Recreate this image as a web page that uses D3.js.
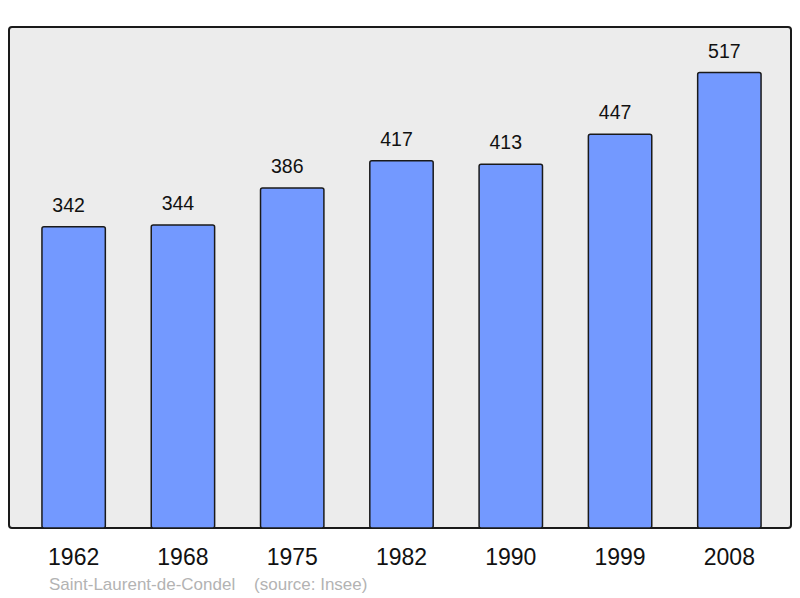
<!DOCTYPE html>
<html>
<head>
<meta charset="utf-8">
<script src="https://cdn.jsdelivr.net/npm/d3@7"></script>
<style>
  body { margin: 0; background: #fff; }
  text { font-family: "Liberation Sans", Arial, sans-serif; }
</style>
</head>
<body>
<div id="chart"></div>
<script>
var years = ['1962', '1968', '1975', '1982', '1990', '1999', '2008'];
var population = [342, 344, 386, 417, 413, 447, 517];
var place = 'Saint-Laurent-de-Condel';
var source = '(source: Insee)';

var width = 800;
var height = 598;
var frame = { left: 9, top: 27, right: 791, bottom: 528 };

var svg = d3.select('#chart')
	.append('svg')
	.attr('width', width)
	.attr('height', height);

// scales
var x_scale = d3.scaleBand()
	.domain(years)
	.range([19, 784])
	.paddingInner(0.42)
	.paddingOuter(0.21);

var y_scale = d3.scaleLinear()
	.domain([0, d3.max(population) * 1.1])
	.range([frame.bottom, frame.top]);

// plot frame
svg.append('rect')
	.attr('x', frame.left)
	.attr('y', frame.top)
	.attr('width', frame.right - frame.left)
	.attr('height', frame.bottom - frame.top)
	.attr('rx', 3)
	.attr('fill', '#ececec')
	.attr('stroke', '#1a1a1a')
	.attr('stroke-width', 2);

// bars
svg.selectAll('rect.bar')
	.data(population)
	.enter()
	.append('rect')
	.attr('class', 'bar')
	.attr('x', function (d, i) { return x_scale(years[i]); })
	.attr('y', function (d) { return y_scale(d); })
	.attr('width', x_scale.bandwidth())
	.attr('height', function (d) { return frame.bottom - y_scale(d); })
	.attr('rx', 2)
	.attr('fill', '#7399ff')
	.attr('stroke', '#1a1a1a')
	.attr('stroke-width', 1.5);

// value labels (sit a little left of bar centre)
svg.selectAll('text.value')
	.data(population)
	.enter()
	.append('text')
	.attr('class', 'value')
	.attr('x', function (d, i) { return x_scale(years[i]) + x_scale.bandwidth() / 2 - 5; })
	.attr('y', function (d) { return y_scale(d) - 15; })
	.attr('text-anchor', 'middle')
	.attr('font-size', 19.5)
	.attr('fill', '#111')
	.text(function (d) { return d; });

// year labels
svg.selectAll('text.year')
	.data(years)
	.enter()
	.append('text')
	.attr('class', 'year')
	.attr('x', function (d) { return x_scale(d) + x_scale.bandwidth() / 2; })
	.attr('y', 565)
	.attr('text-anchor', 'middle')
	.attr('font-size', 23)
	.attr('fill', '#111')
	.text(function (d) { return d; });

// footer
svg.append('text')
	.attr('x', 49)
	.attr('y', 590)
	.attr('font-size', 17)
	.attr('fill', '#b3b3b3')
	.attr('xml:space', 'preserve')
	.text(place + '    ' + source);
</script>
</body>
</html>
